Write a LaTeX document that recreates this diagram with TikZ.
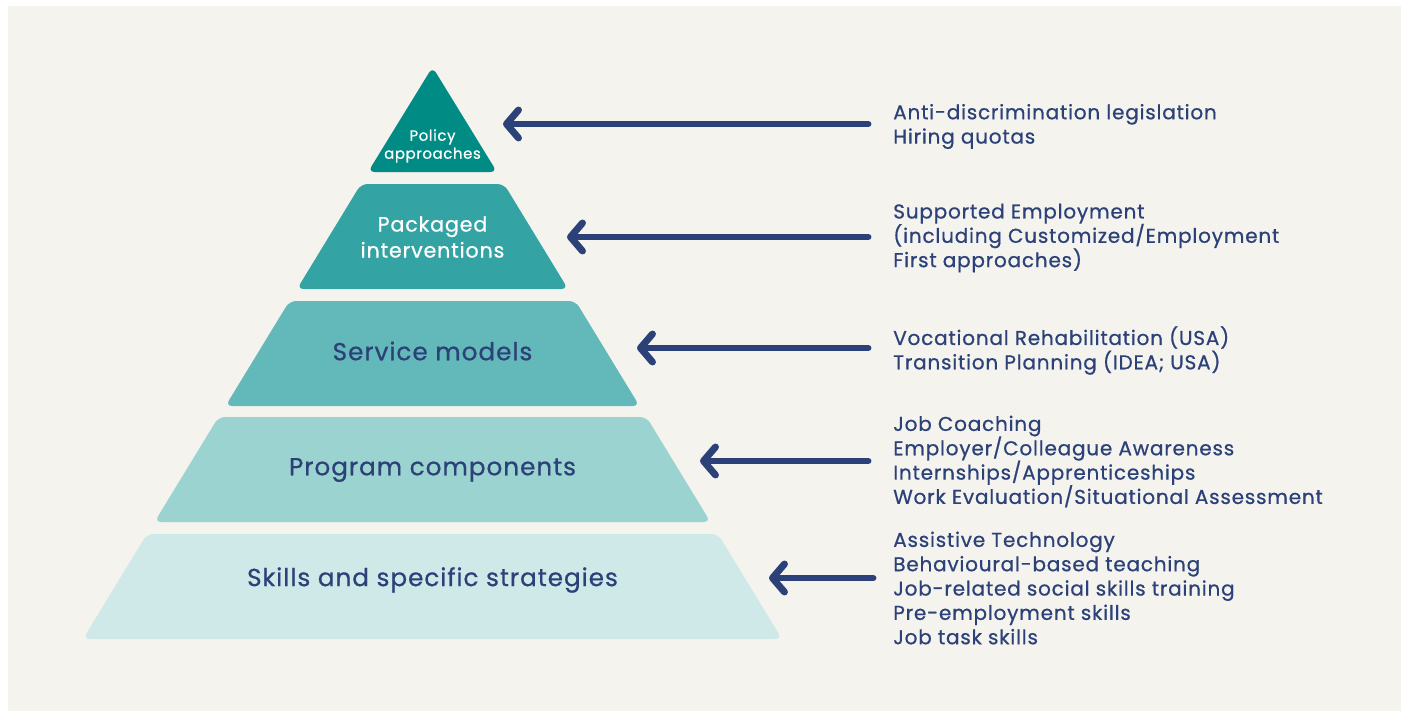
\documentclass[tikz,border=0pt]{standalone}
\usepackage{fontspec}
\setmainfont{Poppins}[LetterSpace=4,FakeBold=0.7]
\usetikzlibrary{arrows.meta}

\definecolor{bgcol}{HTML}{F4F3EE}
\definecolor{navy}{HTML}{2B4178}
\definecolor{tealA}{HTML}{008B85}
\definecolor{tealB}{HTML}{33A3A3}
\definecolor{tealC}{HTML}{63B8B9}
\definecolor{tealD}{HTML}{9BD3D0}
\definecolor{tealE}{HTML}{CFE9E9}

\tikzset{
  layer/.style={rounded corners=5pt},
  toplabel/.style={align=center, text=white, font=\fontsize{11.2}{13.5}\selectfont},
  midlabel/.style={align=center, text=white, font=\fontsize{15.5}{19.5}\selectfont},
  layerlabel/.style={align=center, text=navy, font=\fontsize{18.5}{21}\selectfont},
  items/.style={anchor=west, align=left, inner sep=0pt, text=navy, font=\fontsize{15}{18.25}\selectfont},
  pointer/.style={draw=navy, line width=5.2pt, line cap=round,
    -{Straight Barb[length=9pt,width=21pt,round]}},
}

\begin{document}
\begin{tikzpicture}[x=0.75pt,y=-0.75pt]
    % page and background
    \fill[white] (0,0) rectangle (1401,711);
    \fill[bgcol] (8,6) rectangle (1401,711);
    \useasboundingbox (0,0) rectangle (1401,711);

    % pyramid layers
    \fill[layer, tealA] (432.5,67) -- (497,172) -- (368,172) -- cycle;
    \fill[layer, tealB] (361,184) -- (504,184) -- (568,289) -- (297,289) -- cycle;
    \fill[layer, tealC] (289.5,301) -- (575.5,301) -- (639.5,406) -- (225.5,406) -- cycle;
    \fill[layer, tealD] (218.5,417) -- (646.5,417) -- (710.5,522) -- (154.5,522) -- cycle;
    \fill[layer, tealE] (147,534) -- (718,534) -- (782,639) -- (83,639) -- cycle;

    % layer labels
    \node[toplabel] (policy) at (432.5,146) {Policy\\approaches};
    \node[midlabel] (packaged) at (432.5,237) {Packaged\\interventions};
    \node[layerlabel] (service) at (432.5,351) {Service models};
    \node[layerlabel] (program) at (432.5,470) {Program components};
    \node[layerlabel] (skills) at (432.5,580) {Skills and specific strategies};

    % examples on the right
    \node[items] (txt1) at (893,126.5) {Anti-discrimination legislation\\Hiring quotas};
    \node[items] (txt2) at (893,238) {Supported Employment\\(including Customized/Employment\\First approaches)};
    \node[items] (txt3) at (893,350.5) {Vocational Rehabilitation (USA)\\Transition Planning (IDEA; USA)};
    \node[items] (txt4) at (893,461.5) {Job Coaching\\Employer/Colleague Awareness\\Internships/Apprenticeships\\Work Evaluation/Situational Assessment};
    \node[items] (txt5) at (893,588) {Assistive Technology\\Behavioural-based teaching\\Job-related social skills training\\Pre-employment skills\\Job task skills};

    % arrow ends
    \coordinate (s1) at (868,124);  \coordinate (e1) at (503,124);
    \coordinate (s2) at (868,237);  \coordinate (e2) at (567,237);
    \coordinate (s3) at (868,348);  \coordinate (e3) at (637,348);
    \coordinate (s4) at (868,461);  \coordinate (e4) at (700,461);
    \coordinate (s5) at (873,578);  \coordinate (e5) at (769,578);

    % arrows
    \draw[pointer] (s1) -- (e1);
    \draw[pointer] (s2) -- (e2);
    \draw[pointer] (s3) -- (e3);
    \draw[pointer] (s4) -- (e4);
    \draw[pointer] (s5) -- (e5);
\end{tikzpicture}
\end{document}
